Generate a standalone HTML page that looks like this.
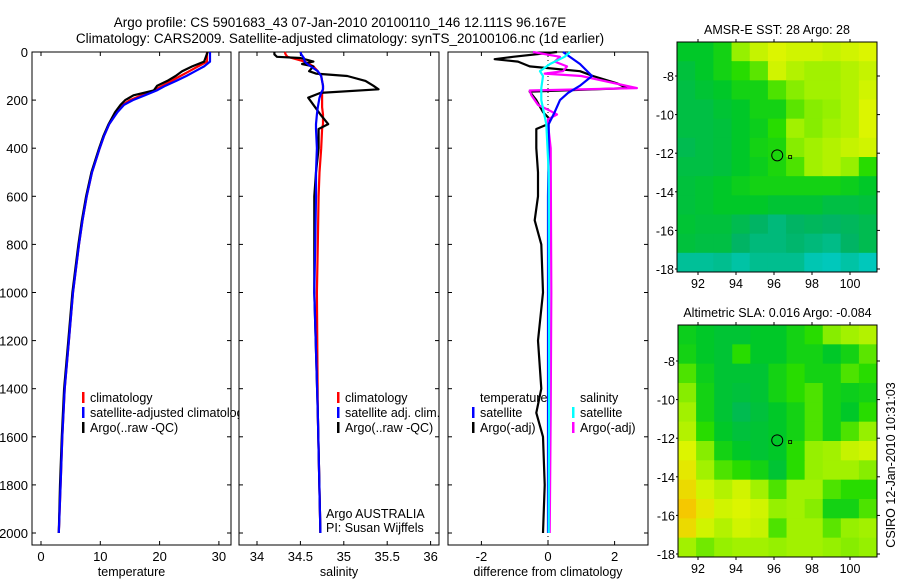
<!DOCTYPE html>
<html><head><meta charset="utf-8"><style>
body{margin:0;background:#fff;}
svg{display:block;font-family:"Liberation Sans",sans-serif;}
</style></head><body>
<svg id="fig" width="900" height="580" viewBox="0 0 900 580">
<text x="340" y="27" font-size="13.5" text-anchor="middle">Argo profile: CS 5901683_43 07-Jan-2010 20100110_146 12.111S 96.167E</text>
<text x="340" y="43" font-size="13.5" text-anchor="middle">Climatology: CARS2009. Satellite-adjusted climatology: synTS_20100106.nc (1d earlier)</text>
<g id="panels"></g>
<g id="maps"></g>
<text transform="translate(895,465) rotate(-90)" font-size="12.5" text-anchor="middle">CSIRO 12-Jan-2010 10:31:03</text>
</svg>
<script>
// ---- temperature panel data ----
const tDepth=[0,20,40,60,80,100,120,140,160,180,200,220,250,300,350,400,500,600,700,800,900,1000,1200,1400,1600,1800,2000];
const tClim=[28,28,28,26.5,25,23.5,22,20.5,19,17,15,13.8,12.8,11.5,10.6,9.9,8.6,7.7,7.0,6.4,5.9,5.4,4.7,4.0,3.6,3.3,3.0];
const tSat=[28.5,28.5,28.5,27.5,26,24.5,22.8,21,19.5,17.5,15.5,14,12.9,11.5,10.6,9.9,8.6,7.7,7.0,6.4,5.9,5.4,4.7,4.0,3.6,3.3,3.0];
const tArgo=[28.1,27.8,27.5,25.5,23.8,22.7,21.3,19.6,19,15.6,14.2,13.4,12.5,11.4,10.5,9.8,8.5,7.6,6.9,6.3,5.8,5.3,4.6,3.9,3.5,3.2,3.0];
// ---- salinity panel data ----
const sDepth=[0,10,20,25,40,50,60,80,90,100,120,140,155,170,190,230,260,300,320,400,500,600,800,1000,1500,2000];
const sArgo=[34.2,34.2,34.23,34.5,34.65,34.52,34.65,34.6,34.68,35.04,35.25,35.34,35.4,34.73,34.59,34.67,34.73,34.82,34.71,34.71,34.68,34.66,34.66,34.66,34.7,34.73];
const sClim=[34.32,34.33,34.35,34.4,34.55,34.6,34.65,34.7,34.72,34.74,34.75,34.76,34.76,34.75,34.75,34.75,34.76,34.76,34.75,34.74,34.72,34.71,34.7,34.69,34.7,34.73];
const sSat=[34.5,34.51,34.53,34.54,34.55,34.58,34.62,34.7,34.72,34.74,34.75,34.76,34.76,34.74,34.72,34.7,34.69,34.68,34.68,34.69,34.68,34.68,34.67,34.66,34.7,34.73];
// ---- difference panel data ----
const dTSatDepth=[0,50,100,140,170,200,250,300,400,600,1000,1500,2000];
const dTSat=[0.45,0.96,1.32,0.96,0.6,0.36,0.2,0.02,0.02,0.0,0.0,0.0,0.0];
const dTArgoDepth=[0,20,30,40,60,80,100,130,150,165,200,250,280,300,320,400,500,600,700,800,1000,1200,1400,1500,1600,1800,2000];
const dTArgo=[0.27,-1.05,-1.6,-0.9,-0.55,0.96,1.35,2.07,2.37,-0.55,-0.35,-0.15,0.06,0.0,-0.35,-0.35,-0.3,-0.3,-0.4,-0.2,-0.15,-0.3,-0.2,-0.35,-0.15,-0.1,-0.15];
const dSSatDepth=[0,20,50,80,100,150,200,300,500,1000,1500,2000];
const dSSat=[0.66,0.5,0.06,-0.24,-0.15,-0.2,-0.2,-0.05,0.02,0.03,0.03,0.02];
const dSArgoDepth=[0,20,40,60,80,90,100,150,160,180,220,240,260,280,300,400,1000,1500,2000];
const dSArgo=[-0.45,0.36,0.2,0.57,0.45,-0.1,1.0,2.67,-0.55,-0.5,-0.3,0.0,0.27,0.0,0.0,0.08,0.1,0.08,0.05];
// ---- map data (rows lat -6.5..-18, cols lon 91..101.4), colormap index 0..1 ----
const sstGrid=[
[0.45,0.45,0.5,0.7,0.78,0.82,0.8,0.8,0.78,0.8,0.82],
[0.4,0.45,0.5,0.55,0.62,0.8,0.75,0.72,0.72,0.75,0.78],
[0.38,0.42,0.45,0.5,0.5,0.6,0.68,0.72,0.72,0.75,0.8],
[0.38,0.38,0.42,0.45,0.5,0.5,0.62,0.68,0.7,0.75,0.82],
[0.38,0.38,0.4,0.45,0.48,0.55,0.72,0.68,0.72,0.75,0.82],
[0.35,0.38,0.4,0.45,0.5,0.52,0.68,0.72,0.75,0.78,0.8],
[0.38,0.38,0.4,0.45,0.48,0.52,0.6,0.72,0.75,0.7,0.55],
[0.4,0.42,0.45,0.48,0.5,0.5,0.5,0.5,0.5,0.48,0.45],
[0.4,0.42,0.45,0.45,0.45,0.42,0.42,0.42,0.38,0.38,0.4],
[0.42,0.4,0.4,0.35,0.3,0.25,0.3,0.32,0.3,0.32,0.35],
[0.4,0.38,0.38,0.3,0.25,0.25,0.28,0.25,0.22,0.3,0.35],
[0.18,0.18,0.2,0.15,0.2,0.2,0.2,0.12,0.1,0.15,0.1]];
const slaGrid=[
[0.48,0.45,0.42,0.42,0.45,0.45,0.5,0.55,0.68,0.72,0.75],
[0.5,0.45,0.42,0.55,0.45,0.45,0.5,0.5,0.45,0.5,0.62],
[0.6,0.48,0.42,0.42,0.42,0.5,0.55,0.5,0.5,0.6,0.55],
[0.68,0.5,0.42,0.4,0.42,0.5,0.55,0.6,0.5,0.48,0.5],
[0.72,0.5,0.42,0.35,0.4,0.45,0.5,0.6,0.5,0.45,0.55],
[0.75,0.55,0.45,0.4,0.42,0.45,0.5,0.6,0.5,0.6,0.7],
[0.82,0.68,0.5,0.45,0.42,0.45,0.55,0.7,0.72,0.78,0.8],
[0.85,0.72,0.6,0.55,0.5,0.42,0.55,0.7,0.72,0.72,0.68],
[0.88,0.8,0.75,0.8,0.72,0.6,0.72,0.72,0.6,0.55,0.55],
[0.92,0.85,0.8,0.82,0.8,0.7,0.72,0.68,0.5,0.5,0.6],
[0.88,0.8,0.75,0.8,0.78,0.6,0.72,0.72,0.62,0.7,0.72],
[0.72,0.65,0.7,0.72,0.72,0.7,0.72,0.72,0.7,0.68,0.7]];
const depthTicks=[0,200,400,600,800,1000,1200,1400,1600,1800,2000];
const tTicks=[0,10,20,30];
const sTicks=[34,34.5,35,35.5,36];
const dTicks=[-2,0,2];
const lonTicks=[92,94,96,98,100];
const latTicks=[-8,-10,-12,-14,-16,-18];

const NS='http://www.w3.org/2000/svg';
function mk(tag,attrs,parent){const e=document.createElementNS(NS,tag);for(const k in attrs)e.setAttribute(k,attrs[k]);parent.appendChild(e);return e;}
const panels=document.getElementById('panels');
const yD=d=>52+d*0.2405;
const PTOP=52,PBOT=545;

function panel(x0,x1,xf,ticks,label,name,showY){
  const g=mk('g',{},panels);
  
  
  const r=mk('rect',{x:x0,y:PTOP,width:x1-x0,height:PBOT-PTOP,fill:'#fff',stroke:'#000','stroke-width':1},g);
  
  
  depthTicks.forEach(d=>{
    const y=yD(d);
    mk('line',{x1:x0,x2:x0+4,y1:y,y2:y,stroke:'#000'},g);
    mk('line',{x1:x1,x2:x1-4,y1:y,y2:y,stroke:'#000'},g);
    if(showY){const t=mk('text',{x:x0-4,y:y+5,'font-size':13,'text-anchor':'end'},g);t.textContent=d;
      
      }
  });
  ticks.forEach(v=>{
    const x=xf(v);
    mk('line',{x1:x,x2:x,y1:PBOT,y2:PBOT-4,stroke:'#000'},g);
    mk('line',{x1:x,x2:x,y1:PTOP,y2:PTOP+4,stroke:'#000'},g);
    const t=mk('text',{x:x,y:561,'font-size':13,'text-anchor':'middle'},g);t.textContent=v;
    
    
  });
  const t=mk('text',{x:(x0+x1)/2,y:576,'font-size':12.5,'text-anchor':'middle'},g);t.textContent=label;
  
  
  return g;
}
function line(g,xf,vals,depths,color,name){
  const pts=vals.map((v,i)=>xf(v).toFixed(1)+','+yD(depths[i]).toFixed(1)).join(' ');
  const p=mk('polyline',{points:pts,fill:'none',stroke:color,'stroke-width':2.2,'stroke-linejoin':'round'},g);
  
  
}
function legend(g,x,y,items){
  items.forEach((it,i)=>{
    const yy=y+i*15;
    if(it.c){mk('rect',{x:x,y:yy-10,width:2.5,height:11,fill:it.c},g);}
    const t=mk('text',{x:x+8,y:yy,'font-size':12.5},g);t.textContent=it.t;
    
    
  });
}
// temperature
const xT=v=>41+v*5.93;
let g1=panel(32,231,xT,tTicks,'temperature','temperature-panel',true);
line(g1,xT,tClim,tDepth,'#f00','temp-climatology-line');
line(g1,xT,tArgo,tDepth,'#000','temp-argo-line');
line(g1,xT,tSat,tDepth,'#00f','temp-satellite-line');
legend(g1,82,402,[{c:'#f00',t:'climatology'},{c:'#00f',t:'satellite-adjusted climatology'},{c:'#000',t:'Argo(..raw -QC)'}]);
// salinity
const xS=v=>257+(v-34)*86.8;
let g2=panel(239,439,xS,sTicks,'salinity','salinity-panel',false);
line(g2,xS,sClim,sDepth,'#f00','sal-climatology-line');
line(g2,xS,sArgo,sDepth,'#000','sal-argo-line');
line(g2,xS,sSat,sDepth,'#00f','sal-satellite-line');
legend(g2,337,402,[{c:'#f00',t:'climatology'},{c:'#00f',t:'satellite adj. clim.'},{c:'#000',t:'Argo(..raw -QC)'}]);
let a1=mk('text',{x:326,y:518,'font-size':12.5},g2);a1.textContent='Argo AUSTRALIA';

let a2=mk('text',{x:326,y:532,'font-size':12.5},g2);a2.textContent='PI: Susan Wijffels';

// difference
const xDf=v=>548+v*33.3;
let g3=panel(448,648,xDf,dTicks,'difference from climatology','difference-panel',false);
mk('line',{x1:xDf(0),x2:xDf(0),y1:PTOP,y2:PBOT,stroke:'#000','stroke-dasharray':'1,3'},g3);
line(g3,xDf,dTArgo,dTArgoDepth,'#000','diff-temp-argo-line');
line(g3,xDf,dSArgo,dSArgoDepth,'#f0f','diff-sal-argo-line');
line(g3,xDf,dTSat,dTSatDepth,'#00f','diff-temp-satellite-line');
line(g3,xDf,dSSat,dSSatDepth,'#0ff','diff-sal-satellite-line');
legend(g3,472,402,[{t:'temperature'},{c:'#00f',t:'satellite'},{c:'#000',t:'Argo(-adj)'}]);
legend(g3,572,402,[{t:'salinity'},{c:'#0ff',t:'satellite'},{c:'#f0f',t:'Argo(-adj)'}]);

// maps
const stops=[[0,[0,210,230]],[0.3,[0,180,100]],[0.45,[0,200,40]],[0.55,[40,220,0]],[0.7,[150,240,0]],[0.82,[220,245,0]],[0.92,[245,200,0]],[1,[245,160,0]]];
function cmap(v){for(let i=1;i<stops.length;i++){if(v<=stops[i][0]){const a=stops[i-1],b=stops[i],f=(v-a[0])/(b[0]-a[0]);return 'rgb('+a[1].map((c,k)=>Math.round(c+(b[1][k]-c)*f)).join(',')+')';}}return 'rgb(245,160,0)';}
const maps=document.getElementById('maps');
function drawMap(grid,x0,y0,x1,y1,lat8y,title,name){
  const g=mk('g',{},maps);
  
  
  const rows=grid.length,cols=grid[0].length,cw=(x1-x0)/cols,ch=(y1-y0)/rows;
  grid.forEach((row,r)=>row.forEach((v,c)=>{
    const cell=mk('rect',{x:x0+c*cw,y:y0+r*ch,width:cw+0.5,height:ch+0.5,fill:cmap(v)},g);
    
    
  }));
  mk('rect',{x:x0,y:y0,width:x1-x0,height:y1-y0,fill:'none',stroke:'#000'},g);
  const lonX=l=>698+(l-92)*19;
  const latY=l=>lat8y+(-8-l)*19.3;
  lonTicks.forEach(l=>{const x=lonX(l);mk('line',{x1:x,x2:x,y1:y0,y2:y0-3,stroke:'#000'},g);mk('line',{x1:x,x2:x,y1:y1,y2:y1+3,stroke:'#000'},g);
    const t=mk('text',{x:x,y:y1+16,'font-size':12.5,'text-anchor':'middle'},g);t.textContent=l;
    });
  latTicks.forEach(l=>{const y=latY(l);mk('line',{x1:x1,x2:x1+3,y1:y,y2:y,stroke:'#000'},g);mk('line',{x1:x0,x2:x0-2,y1:y,y2:y,stroke:'#000'},g);
    const t=mk('text',{x:x0-3,y:y+5,'font-size':12.5,'text-anchor':'end'},g);t.textContent=l;
    });
  const c=mk('circle',{cx:lonX(96.17),cy:latY(-12.11),r:5.5,fill:'none',stroke:'#000'},g);
  
  mk('rect',{x:lonX(96.85)-1.5,y:latY(-12.2)-1.5,width:3,height:3,fill:'none',stroke:'#000','stroke-width':0.8},g);
  const t=mk('text',{x:(x0+x1)/2,y:y0-8,'font-size':12.5,'text-anchor':'middle'},g);t.textContent=title;
  
}
drawMap(sstGrid,677,42,877,272,76,'AMSR-E SST: 28 Argo: 28','sst-map');
drawMap(slaGrid,678,325,877,557,361,'Altimetric SLA: 0.016 Argo: -0.084','sla-map');
</script>
</body></html>
